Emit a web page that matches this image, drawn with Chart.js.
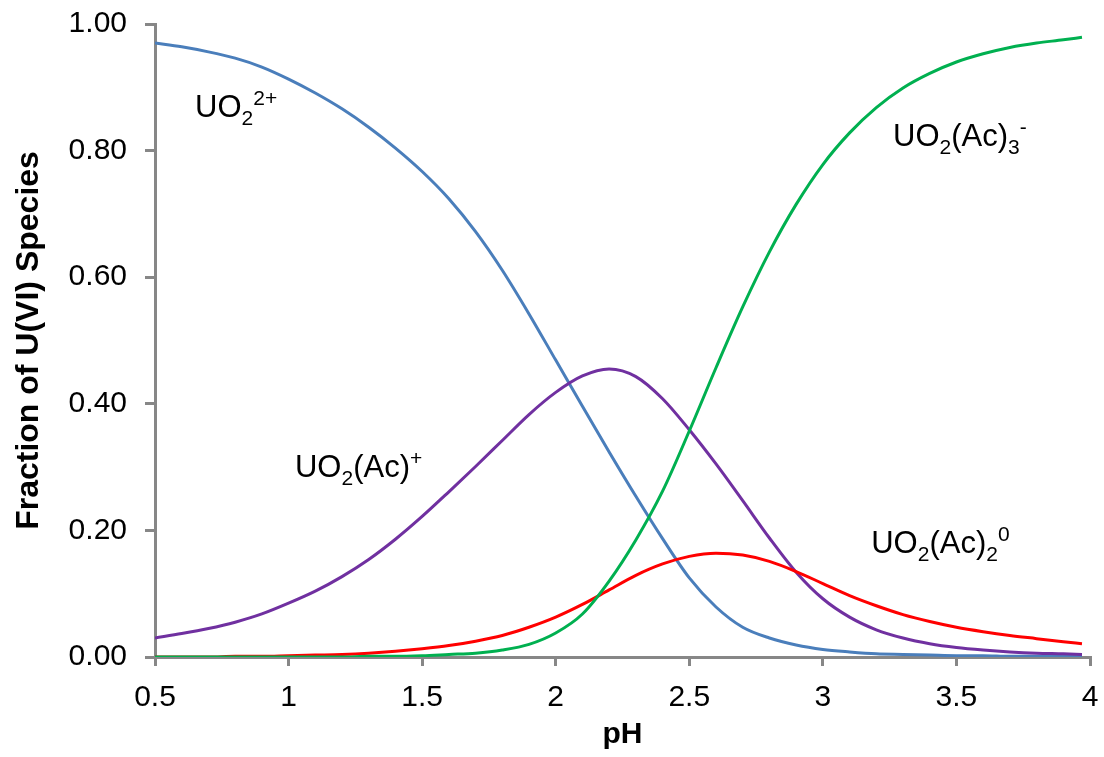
<!DOCTYPE html>
<html>
<head>
<meta charset="utf-8">
<script src="https://cdn.jsdelivr.net/npm/chart.js@4"></script>
<style>
    html, body { margin: 0; padding: 0; background: #fff; }
    #wrap { width: 1104px; height: 757px; }
</style>
</head>
<body>
<div id="wrap"><canvas id="species-chart"></canvas></div>
<script>
// pH values
const pH = [0.5, 0.6, 0.7, 0.8, 0.9, 1.0, 1.1, 1.2, 1.3, 1.4, 1.5, 1.6, 1.7, 1.8, 1.9,
    2.0, 2.1, 2.2, 2.3, 2.4, 2.5, 2.6, 2.7, 2.8, 2.9, 3.0, 3.1, 3.2, 3.3, 3.4, 3.5,
    3.6, 3.7, 3.8, 3.9, 3.97];

// UO2 2+
const uranyl = [0.970, 0.964, 0.956, 0.946, 0.932, 0.913, 0.891, 0.866, 0.837, 0.804, 0.767,
    0.724, 0.672, 0.611, 0.542, 0.469, 0.396, 0.324, 0.254, 0.187, 0.125, 0.079, 0.047,
    0.030, 0.019, 0.012, 0.008, 0.005, 0.004, 0.003, 0.002, 0.002, 0.001, 0.001, 0.001, 0.001];

// UO2(Ac)+
const monoAcetate = [0.030, 0.037, 0.045, 0.055, 0.068, 0.085, 0.104, 0.127, 0.154, 0.186, 0.222,
    0.261, 0.301, 0.342, 0.383, 0.418, 0.444, 0.455, 0.443, 0.408, 0.359, 0.305, 0.247,
    0.188, 0.134, 0.092, 0.063, 0.043, 0.030, 0.021, 0.015, 0.011, 0.008, 0.006, 0.005, 0.004];

// UO2(Ac)2 0
const diAcetate = [0.000, 0.000, 0.000, 0.001, 0.001, 0.002, 0.003, 0.004, 0.006, 0.009, 0.013,
    0.018, 0.025, 0.034, 0.047, 0.063, 0.083, 0.106, 0.129, 0.147, 0.159, 0.164, 0.161,
    0.151, 0.135, 0.116, 0.097, 0.081, 0.067, 0.056, 0.047, 0.040, 0.034, 0.029, 0.024, 0.021];

// UO2(Ac)3 -
const triAcetate = [0.000, 0.000, 0.000, 0.000, 0.000, 0.000, 0.000, 0.000, 0.001, 0.001, 0.002,
    0.004, 0.006, 0.011, 0.020, 0.038, 0.068, 0.120, 0.185, 0.262, 0.357, 0.457, 0.553,
    0.640, 0.715, 0.778, 0.828, 0.868, 0.899, 0.922, 0.940, 0.953, 0.963, 0.970, 0.975, 0.979];

const xTicks = [0.5, 1, 1.5, 2, 2.5, 3, 3.5, 4];
const yTicks = [0, 0.2, 0.4, 0.6, 0.8, 1.0];

// text labels inside the plot: [text, 0 = normal, 1 = subscript, -1 = superscript]
const speciesLabels = [
    { x: 0.65, y: 0.853, parts: [['UO', 0], ['2', 1], ['2+', -1]] },
    { x: 3.263, y: 0.807, parts: [['UO', 0], ['2', 1], ['(Ac)', 0], ['3', 1], ['-', -1]] },
    { x: 1.024, y: 0.284, parts: [['UO', 0], ['2', 1], ['(Ac)', 0], ['+', -1]] },
    { x: 3.181, y: 0.164, parts: [['UO', 0], ['2', 1], ['(Ac)', 0], ['2', 1], ['0', -1]] }
];

const FONT = "'Liberation Sans', Arial, sans-serif";
const AXIS_GREY = '#878787';

const toPoints = (values) => values.map((v, i) => ({ x: pH[i], y: v }));

const labelPlugin = {
    id: 'speciesLabels',
    afterDatasetsDraw(chart) {
        const { ctx, scales: { x, y } } = chart;
        ctx.save();
        ctx.fillStyle = '#000';
        ctx.textBaseline = 'alphabetic';
        ctx.textAlign = 'left';
        speciesLabels.forEach(label => {
            let px = x.getPixelForValue(label.x);
            const py = y.getPixelForValue(label.y);
            label.parts.forEach(([text, kind]) => {
                ctx.font = (kind === 0 ? '31px ' : '21px ') + FONT;
                const dy = kind === 1 ? 8 : (kind === -1 ? -12 : 0);
                ctx.fillText(text, px, py + dy);
                px += ctx.measureText(text).width;
            });
        });
        ctx.restore();
    }
};

const makeLine = (label, values, color, order) => ({
    label: label,
    data: toPoints(values),
    borderColor: color,
    backgroundColor: color,
    borderWidth: 3,
    pointRadius: 0,
    cubicInterpolationMode: 'monotone',
    fill: false,
    order: order
});

new Chart(document.getElementById('species-chart'), {
    type: 'line',
    data: {
        datasets: [
            makeLine('UO2 2+', uranyl, '#4a7ebb', 4),
            makeLine('UO2(Ac)+', monoAcetate, '#7030a0', 3),
            makeLine('UO2(Ac)2 0', diAcetate, '#ff0000', 2),
            makeLine('UO2(Ac)3 -', triAcetate, '#00b050', 1)
        ]
    },
    options: {
        responsive: true,
        maintainAspectRatio: false,
        animation: false,
        layout: {
            padding: { top: 24, right: 14, left: 0, bottom: 0 }
        },
        plugins: {
            legend: { display: false },
            tooltip: { enabled: false }
        },
        scales: {
            x: {
                type: 'linear',
                min: 0.5,
                max: 4,
                afterFit: (scale) => {
                    scale.height = 100;
                    scale.paddingLeft = 0;
                    scale.paddingRight = 0;
                },
                afterBuildTicks: (scale) => { scale.ticks = xTicks.map(v => ({ value: v })); },
                ticks: {
                    color: '#000',
                    padding: 14,
                    font: { family: FONT, size: 30 },
                    maxRotation: 0,
                    callback: (v) => String(v)
                },
                grid: {
                    drawOnChartArea: false,
                    drawTicks: true,
                    tickLength: 9,
                    color: AXIS_GREY,
                    lineWidth: 3
                },
                border: { color: AXIS_GREY, width: 3 },
                title: {
                    display: true,
                    text: 'pH',
                    color: '#000',
                    font: { family: FONT, size: 30, weight: 'bold' },
                    padding: { top: 0, bottom: 4 }
                }
            },
            y: {
                type: 'linear',
                min: 0,
                max: 1,
                afterFit: (scale) => {
                    scale.width = 155;
                    scale.paddingTop = 0;
                    scale.paddingBottom = 0;
                },
                afterBuildTicks: (scale) => { scale.ticks = yTicks.map(v => ({ value: v })); },
                ticks: {
                    color: '#000',
                    padding: 18,
                    font: { family: FONT, size: 30 },
                    callback: (v) => Number(v).toFixed(2)
                },
                grid: {
                    drawOnChartArea: false,
                    drawTicks: true,
                    tickLength: 10,
                    color: AXIS_GREY,
                    lineWidth: 3
                },
                border: { color: AXIS_GREY, width: 3 },
                title: {
                    display: true,
                    text: 'Fraction of U(VI) Species',
                    color: '#000',
                    font: { family: FONT, size: 32, weight: 'bold' },
                    padding: { top: 10, bottom: 0 }
                }
            }
        }
    },
    plugins: [labelPlugin]
});
</script>
</body>
</html>
